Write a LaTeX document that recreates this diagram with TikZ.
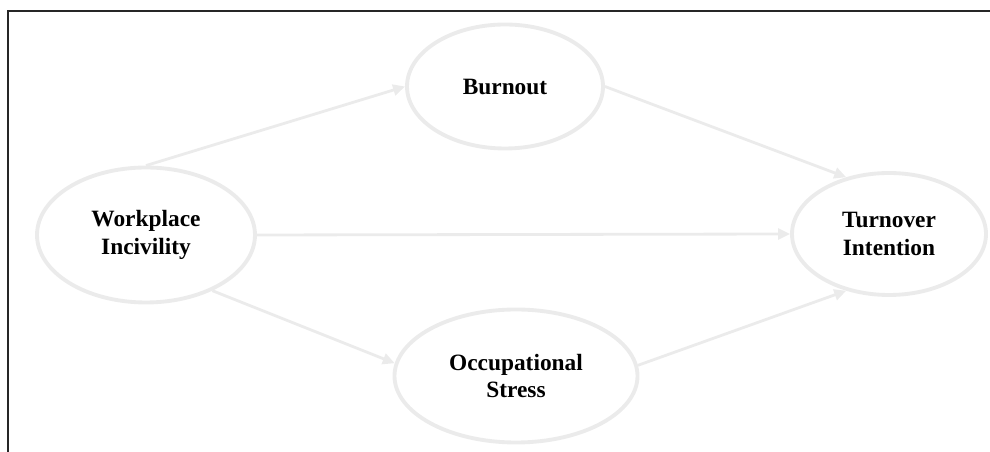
\documentclass[tikz,border=0pt]{standalone}
\usepackage{fontspec}
\setmainfont{Liberation Serif}
\usetikzlibrary{arrows.meta,shapes.geometric,calc}
\definecolor{paleline}{HTML}{EBEBEB}

\begin{document}
\begin{tikzpicture}[
        %Environment config
        font=\bfseries\fontsize{13.3pt}{15.5pt}\selectfont,
        %Environment styles
        EllipseCfg/.style={
            ellipse,
            draw=paleline,
            line width=2.2pt,
            inner sep=0pt,
            align=center
        },
        ArrowCfg/.style={
            draw=paleline,
            line width=1.6pt,
            -{Triangle[length=0.24cm,width=0.22cm]}
        }
    ]
    \useasboundingbox (0,0) rectangle (19.8,9.04);

    %frame, only top and left edges show
    \draw[line width=1.2pt, black!85] (0.16,0) -- (0.16,8.82) -- (19.8,8.82);

    \path
        (2.92,4.34) node[EllipseCfg,minimum width=4.36cm,minimum height=2.70cm](WI){Workplace\\Incivility}
        (10.10,7.31) node[EllipseCfg,minimum width=3.92cm,minimum height=2.48cm](BURN){Burnout}
        (10.32,1.52) node[EllipseCfg,minimum width=4.86cm,minimum height=2.66cm](STRESS){Occupational\\Stress}
        (17.78,4.36) node[EllipseCfg,minimum width=3.88cm,minimum height=2.44cm](TURN){Turnover\\Intention};

    \draw[ArrowCfg]
        (WI.north) -- (BURN.west);
    \draw[ArrowCfg]
        (BURN.east) -- (TURN.127);
    \draw[ArrowCfg]
        (WI.east) -- (TURN.west);
    \draw[ArrowCfg]
        (WI.-40) -- (STRESS.174);
    \draw[ArrowCfg]
        (STRESS.5) -- (TURN.233);

\end{tikzpicture}
\end{document}
